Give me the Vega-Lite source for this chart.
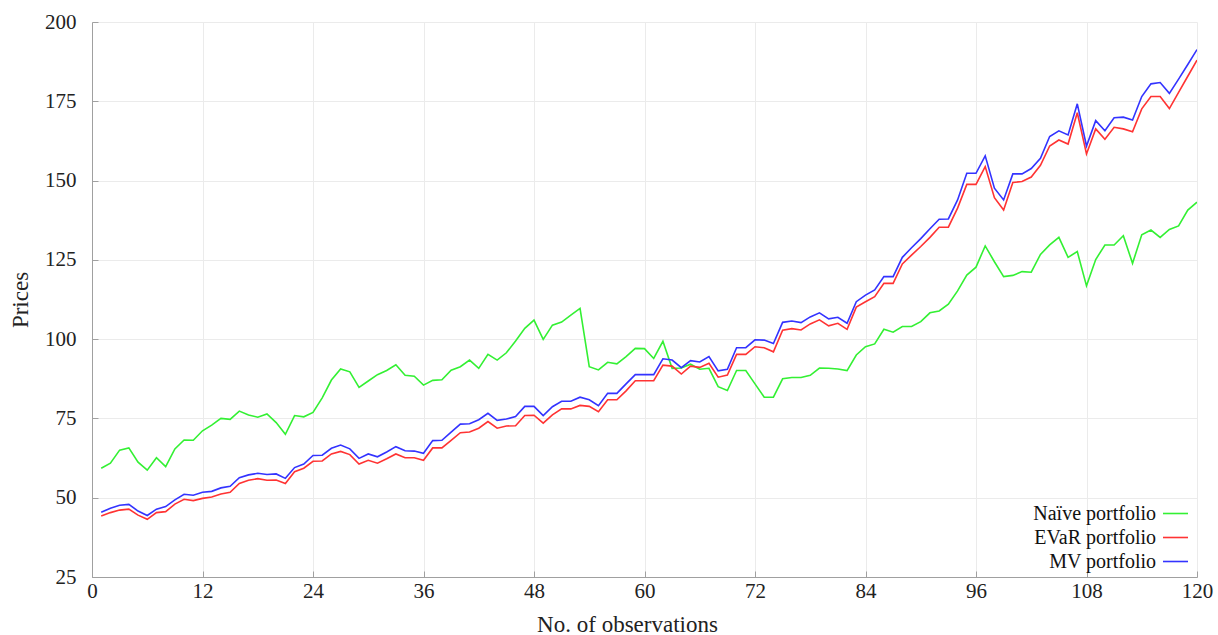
{
  "$schema": "https://vega.github.io/schema/vega-lite/v6.json",
  "autosize": {"type": "none"},
  "padding": {"left": 92, "top": 22, "right": 21, "bottom": 58},
  "width": 1105,
  "height": 555,
  "background": "white",
  "config": {
    "view": {"stroke": null},
    "font": "Liberation Serif"
  },
  "data": {
    "values": [
      {"n":1,"Naïve portfolio":59.3,"EVaR portfolio":44.2,"MV portfolio":45.4},
      {"n":2,"Naïve portfolio":60.9,"EVaR portfolio":45.3,"MV portfolio":46.7},
      {"n":3,"Naïve portfolio":65.0,"EVaR portfolio":46.1,"MV portfolio":47.6},
      {"n":4,"Naïve portfolio":65.7,"EVaR portfolio":46.4,"MV portfolio":47.9},
      {"n":5,"Naïve portfolio":61.2,"EVaR portfolio":44.5,"MV portfolio":45.8},
      {"n":6,"Naïve portfolio":58.7,"EVaR portfolio":43.2,"MV portfolio":44.4},
      {"n":7,"Naïve portfolio":62.6,"EVaR portfolio":45.3,"MV portfolio":46.4},
      {"n":8,"Naïve portfolio":59.8,"EVaR portfolio":45.6,"MV portfolio":47.2},
      {"n":9,"Naïve portfolio":65.4,"EVaR portfolio":48.0,"MV portfolio":49.3},
      {"n":10,"Naïve portfolio":68.2,"EVaR portfolio":49.5,"MV portfolio":51.1},
      {"n":11,"Naïve portfolio":68.1,"EVaR portfolio":49.1,"MV portfolio":50.8},
      {"n":12,"Naïve portfolio":71.1,"EVaR portfolio":49.8,"MV portfolio":51.7},
      {"n":13,"Naïve portfolio":72.9,"EVaR portfolio":50.2,"MV portfolio":52.0},
      {"n":14,"Naïve portfolio":75.0,"EVaR portfolio":51.2,"MV portfolio":53.1},
      {"n":15,"Naïve portfolio":74.7,"EVaR portfolio":51.7,"MV portfolio":53.6},
      {"n":16,"Naïve portfolio":77.3,"EVaR portfolio":54.5,"MV portfolio":56.3},
      {"n":17,"Naïve portfolio":76.1,"EVaR portfolio":55.5,"MV portfolio":57.2},
      {"n":18,"Naïve portfolio":75.4,"EVaR portfolio":56.0,"MV portfolio":57.7},
      {"n":19,"Naïve portfolio":76.4,"EVaR portfolio":55.5,"MV portfolio":57.3},
      {"n":20,"Naïve portfolio":73.7,"EVaR portfolio":55.6,"MV portfolio":57.5},
      {"n":21,"Naïve portfolio":70.0,"EVaR portfolio":54.5,"MV portfolio":56.1},
      {"n":22,"Naïve portfolio":75.9,"EVaR portfolio":58.2,"MV portfolio":59.5},
      {"n":23,"Naïve portfolio":75.5,"EVaR portfolio":59.3,"MV portfolio":60.6},
      {"n":24,"Naïve portfolio":76.9,"EVaR portfolio":61.5,"MV portfolio":63.3},
      {"n":25,"Naïve portfolio":81.5,"EVaR portfolio":61.6,"MV portfolio":63.4},
      {"n":26,"Naïve portfolio":87.1,"EVaR portfolio":63.8,"MV portfolio":65.6},
      {"n":27,"Naïve portfolio":90.6,"EVaR portfolio":64.6,"MV portfolio":66.6},
      {"n":28,"Naïve portfolio":89.7,"EVaR portfolio":63.6,"MV portfolio":65.4},
      {"n":29,"Naïve portfolio":84.8,"EVaR portfolio":60.6,"MV portfolio":62.4},
      {"n":30,"Naïve portfolio":86.8,"EVaR portfolio":61.8,"MV portfolio":63.8},
      {"n":31,"Naïve portfolio":88.8,"EVaR portfolio":60.9,"MV portfolio":62.9},
      {"n":32,"Naïve portfolio":90.1,"EVaR portfolio":62.3,"MV portfolio":64.4},
      {"n":33,"Naïve portfolio":91.9,"EVaR portfolio":63.8,"MV portfolio":66.1},
      {"n":34,"Naïve portfolio":88.6,"EVaR portfolio":62.6,"MV portfolio":64.8},
      {"n":35,"Naïve portfolio":88.3,"EVaR portfolio":62.6,"MV portfolio":64.7},
      {"n":36,"Naïve portfolio":85.5,"EVaR portfolio":61.8,"MV portfolio":64.0},
      {"n":37,"Naïve portfolio":87.0,"EVaR portfolio":65.7,"MV portfolio":68.0},
      {"n":38,"Naïve portfolio":87.2,"EVaR portfolio":65.7,"MV portfolio":68.1},
      {"n":39,"Naïve portfolio":90.2,"EVaR portfolio":68.1,"MV portfolio":70.7},
      {"n":40,"Naïve portfolio":91.3,"EVaR portfolio":70.5,"MV portfolio":73.2},
      {"n":41,"Naïve portfolio":93.4,"EVaR portfolio":70.7,"MV portfolio":73.3},
      {"n":42,"Naïve portfolio":90.8,"EVaR portfolio":71.9,"MV portfolio":74.6},
      {"n":43,"Naïve portfolio":95.2,"EVaR portfolio":74.0,"MV portfolio":76.6},
      {"n":44,"Naïve portfolio":93.4,"EVaR portfolio":71.9,"MV portfolio":74.4},
      {"n":45,"Naïve portfolio":95.7,"EVaR portfolio":72.6,"MV portfolio":74.8},
      {"n":46,"Naïve portfolio":99.4,"EVaR portfolio":72.7,"MV portfolio":75.6},
      {"n":47,"Naïve portfolio":103.4,"EVaR portfolio":75.9,"MV portfolio":78.8},
      {"n":48,"Naïve portfolio":106.0,"EVaR portfolio":76.0,"MV portfolio":78.8},
      {"n":49,"Naïve portfolio":99.9,"EVaR portfolio":73.5,"MV portfolio":75.9},
      {"n":50,"Naïve portfolio":104.4,"EVaR portfolio":76.1,"MV portfolio":78.7},
      {"n":51,"Naïve portfolio":105.4,"EVaR portfolio":78.0,"MV portfolio":80.4},
      {"n":52,"Naïve portfolio":107.6,"EVaR portfolio":78.0,"MV portfolio":80.4},
      {"n":53,"Naïve portfolio":109.7,"EVaR portfolio":79.1,"MV portfolio":81.7},
      {"n":54,"Naïve portfolio":91.3,"EVaR portfolio":78.8,"MV portfolio":80.9},
      {"n":55,"Naïve portfolio":90.3,"EVaR portfolio":77.1,"MV portfolio":79.0},
      {"n":56,"Naïve portfolio":92.7,"EVaR portfolio":80.9,"MV portfolio":82.9},
      {"n":57,"Naïve portfolio":92.2,"EVaR portfolio":80.9,"MV portfolio":82.9},
      {"n":58,"Naïve portfolio":94.5,"EVaR portfolio":83.7,"MV portfolio":85.9},
      {"n":59,"Naïve portfolio":97.1,"EVaR portfolio":86.9,"MV portfolio":88.8},
      {"n":60,"Naïve portfolio":97.0,"EVaR portfolio":86.9,"MV portfolio":88.8},
      {"n":61,"Naïve portfolio":93.9,"EVaR portfolio":86.9,"MV portfolio":88.8},
      {"n":62,"Naïve portfolio":99.3,"EVaR portfolio":91.8,"MV portfolio":93.8},
      {"n":63,"Naïve portfolio":90.8,"EVaR portfolio":91.5,"MV portfolio":93.4},
      {"n":64,"Naïve portfolio":90.9,"EVaR portfolio":89.0,"MV portfolio":91.0},
      {"n":65,"Naïve portfolio":92.1,"EVaR portfolio":91.5,"MV portfolio":93.2},
      {"n":66,"Naïve portfolio":90.5,"EVaR portfolio":91.1,"MV portfolio":92.8},
      {"n":67,"Naïve portfolio":90.8,"EVaR portfolio":92.4,"MV portfolio":94.5},
      {"n":68,"Naïve portfolio":85.0,"EVaR portfolio":88.0,"MV portfolio":90.0},
      {"n":69,"Naïve portfolio":83.8,"EVaR portfolio":88.7,"MV portfolio":90.5},
      {"n":70,"Naïve portfolio":90.1,"EVaR portfolio":95.2,"MV portfolio":97.3},
      {"n":71,"Naïve portfolio":90.1,"EVaR portfolio":95.2,"MV portfolio":97.3},
      {"n":72,"Naïve portfolio":85.9,"EVaR portfolio":97.6,"MV portfolio":99.8},
      {"n":73,"Naïve portfolio":81.7,"EVaR portfolio":97.3,"MV portfolio":99.7},
      {"n":74,"Naïve portfolio":81.7,"EVaR portfolio":96.0,"MV portfolio":98.6},
      {"n":75,"Naïve portfolio":87.5,"EVaR portfolio":102.8,"MV portfolio":105.3},
      {"n":76,"Naïve portfolio":87.9,"EVaR portfolio":103.3,"MV portfolio":105.7},
      {"n":77,"Naïve portfolio":87.9,"EVaR portfolio":102.9,"MV portfolio":105.2},
      {"n":78,"Naïve portfolio":88.6,"EVaR portfolio":104.8,"MV portfolio":107.0},
      {"n":79,"Naïve portfolio":90.9,"EVaR portfolio":106.1,"MV portfolio":108.3},
      {"n":80,"Naïve portfolio":90.8,"EVaR portfolio":104.2,"MV portfolio":106.4},
      {"n":81,"Naïve portfolio":90.6,"EVaR portfolio":105.0,"MV portfolio":106.9},
      {"n":82,"Naïve portfolio":90.1,"EVaR portfolio":103.1,"MV portfolio":105.0},
      {"n":83,"Naïve portfolio":95.0,"EVaR portfolio":110.1,"MV portfolio":111.8},
      {"n":84,"Naïve portfolio":97.6,"EVaR portfolio":111.8,"MV portfolio":113.9},
      {"n":85,"Naïve portfolio":98.5,"EVaR portfolio":113.4,"MV portfolio":115.5},
      {"n":86,"Naïve portfolio":103.1,"EVaR portfolio":117.6,"MV portfolio":119.7},
      {"n":87,"Naïve portfolio":102.2,"EVaR portfolio":117.6,"MV portfolio":119.7},
      {"n":88,"Naïve portfolio":104.0,"EVaR portfolio":123.7,"MV portfolio":125.8},
      {"n":89,"Naïve portfolio":104.0,"EVaR portfolio":126.5,"MV portfolio":128.8},
      {"n":90,"Naïve portfolio":105.5,"EVaR portfolio":129.2,"MV portfolio":131.7},
      {"n":91,"Naïve portfolio":108.3,"EVaR portfolio":132.1,"MV portfolio":134.8},
      {"n":92,"Naïve portfolio":108.9,"EVaR portfolio":135.3,"MV portfolio":137.8},
      {"n":93,"Naïve portfolio":111.0,"EVaR portfolio":135.3,"MV portfolio":137.9},
      {"n":94,"Naïve portfolio":115.2,"EVaR portfolio":141.3,"MV portfolio":143.9},
      {"n":95,"Naïve portfolio":120.2,"EVaR portfolio":148.8,"MV portfolio":152.3},
      {"n":96,"Naïve portfolio":122.7,"EVaR portfolio":148.8,"MV portfolio":152.3},
      {"n":97,"Naïve portfolio":129.4,"EVaR portfolio":154.4,"MV portfolio":157.8},
      {"n":98,"Naïve portfolio":124.4,"EVaR portfolio":144.6,"MV portfolio":147.6},
      {"n":99,"Naïve portfolio":119.7,"EVaR portfolio":140.7,"MV portfolio":143.9},
      {"n":100,"Naïve portfolio":120.1,"EVaR portfolio":149.4,"MV portfolio":152.1},
      {"n":101,"Naïve portfolio":121.3,"EVaR portfolio":149.7,"MV portfolio":152.1},
      {"n":102,"Naïve portfolio":121.1,"EVaR portfolio":151.1,"MV portfolio":153.8},
      {"n":103,"Naïve portfolio":126.7,"EVaR portfolio":154.8,"MV portfolio":157.0},
      {"n":104,"Naïve portfolio":129.7,"EVaR portfolio":160.9,"MV portfolio":163.9},
      {"n":105,"Naïve portfolio":132.1,"EVaR portfolio":162.8,"MV portfolio":165.7},
      {"n":106,"Naïve portfolio":125.8,"EVaR portfolio":161.5,"MV portfolio":164.4},
      {"n":107,"Naïve portfolio":127.6,"EVaR portfolio":171.4,"MV portfolio":174.2},
      {"n":108,"Naïve portfolio":116.8,"EVaR portfolio":158.4,"MV portfolio":160.9},
      {"n":109,"Naïve portfolio":125.1,"EVaR portfolio":166.3,"MV portfolio":168.9},
      {"n":110,"Naïve portfolio":129.7,"EVaR portfolio":163.0,"MV portfolio":165.7},
      {"n":111,"Naïve portfolio":129.7,"EVaR portfolio":166.8,"MV portfolio":169.8},
      {"n":112,"Naïve portfolio":132.6,"EVaR portfolio":166.3,"MV portfolio":170.0},
      {"n":113,"Naïve portfolio":123.9,"EVaR portfolio":165.4,"MV portfolio":169.1},
      {"n":114,"Naïve portfolio":132.9,"EVaR portfolio":172.6,"MV portfolio":176.5},
      {"n":115,"Naïve portfolio":134.4,"EVaR portfolio":176.5,"MV portfolio":180.5},
      {"n":116,"Naïve portfolio":132.1,"EVaR portfolio":176.5,"MV portfolio":180.9},
      {"n":117,"Naïve portfolio":134.6,"EVaR portfolio":172.7,"MV portfolio":177.5},
      {"n":118,"Naïve portfolio":135.7,"EVaR portfolio":177.8,"MV portfolio":182.0},
      {"n":119,"Naïve portfolio":140.7,"EVaR portfolio":182.9,"MV portfolio":186.6},
      {"n":120,"Naïve portfolio":143.2,"EVaR portfolio":188.0,"MV portfolio":191.3}
    ]
  },
  "transform": [
    {"fold": ["Naïve portfolio", "EVaR portfolio", "MV portfolio"], "as": ["series", "price"]}
  ],
  "mark": {"type": "line", "strokeWidth": 1.6, "clip": true},
  "encoding": {
    "x": {
      "field": "n",
      "type": "quantitative",
      "scale": {"domain": [0, 120], "nice": false, "zero": false},
      "axis": {
        "title": "No. of observations",
        "titleX": 535,
        "values": [0, 12, 24, 36, 48, 60, 72, 84, 96, 108, 120],
        "grid": true,
        "gridColor": "#ebebeb",
        "domainColor": "#a0a0a0",
        "tickColor": "#a0a0a0",
        "tickSize": -6,
        "labelPadding": 9,
        "labelFont": "Liberation Serif",
        "labelFontSize": 21,
        "labelColor": "#222222",
        "labelFlush": false,
        "titleFont": "Liberation Serif",
        "titleFontSize": 23,
        "titleFontWeight": "normal",
        "titleColor": "#222222",
        "titlePadding": 12
      }
    },
    "y": {
      "field": "price",
      "type": "quantitative",
      "scale": {"domain": [25, 200], "nice": false, "zero": false},
      "axis": {
        "title": "Prices",
        "values": [25, 50, 75, 100, 125, 150, 175, 200],
        "grid": true,
        "gridColor": "#ebebeb",
        "domainColor": "#a0a0a0",
        "tickColor": "#a0a0a0",
        "tickSize": -6,
        "labelPadding": 22,
        "labelFont": "Liberation Serif",
        "labelFontSize": 21,
        "labelColor": "#222222",
        "titleFont": "Liberation Serif",
        "titleFontSize": 23,
        "titleFontWeight": "normal",
        "titleColor": "#222222",
        "titlePadding": 12
      }
    },
    "color": {
      "field": "series",
      "type": "nominal",
      "sort": ["Naïve portfolio", "EVaR portfolio", "MV portfolio"],
      "scale": {
        "domain": ["Naïve portfolio", "EVaR portfolio", "MV portfolio"],
        "range": ["#33f033", "#ff3333", "#3333ff"]
      },
      "legend": {
        "title": null,
        "orient": "bottom-right",
        "offset": 5,
        "symbolType": "stroke",
        "symbolSize": 625,
        "symbolStrokeWidth": 1.6,
        "labelAlign": "right",
        "labelOffset": -33,
        "labelFont": "Liberation Serif",
        "labelFontSize": 20,
        "labelColor": "#111111",
        "labelLimit": 300,
        "rowPadding": -1
      }
    }
  }
}
